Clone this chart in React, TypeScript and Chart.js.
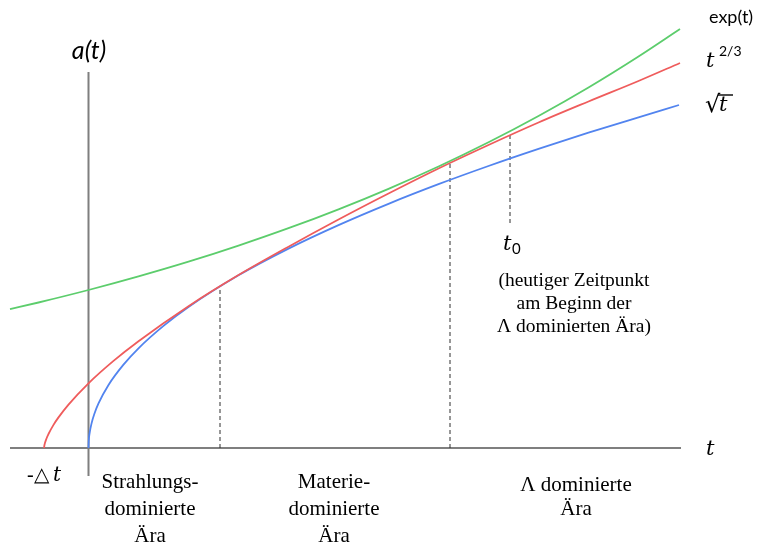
import React, { useEffect, useRef } from "react";
import { Chart, registerables } from "chart.js";

Chart.register(...registerables);

// Scale factor a(t) for the three cosmological eras (schematic)
// Matter-like growth, starting at -Δt: a ~ t^(2/3)
const tRed = [-0.445, -0.44, -0.42, -0.4, -0.35, -0.3, -0.2, 0, 0.25, 0.5, 1, 1.5, 2, 2.5, 3, 3.5, 4, 4.5, 5, 5.5, 5.915];
const aRed = [0, 0.032, 0.095, 0.14, 0.231, 0.306, 0.434, 0.647, 0.871, 1.068, 1.418, 1.729, 2.013, 2.285, 2.545, 2.795, 3.03, 3.255, 3.465, 3.67, 3.85];

// a ~ sqrt(t)
const tBlue = [0, 0.002, 0.01, 0.03, 0.06, 0.1, 0.2, 0.35, 0.5, 0.75, 1, 1.5, 2, 2.5, 3, 3.5, 4, 4.5, 5, 5.5, 5.905];
const aBlue = [0, 0.063, 0.141, 0.244, 0.345, 0.446, 0.631, 0.834, 0.997, 1.221, 1.41, 1.727, 1.994, 2.229, 2.442, 2.638, 2.82, 2.991, 3.153, 3.307, 3.43];

// a ~ exp(t)
const tGreen = [-0.785, -0.5, 0, 0.5, 1, 1.5, 2, 2.5, 3, 3.5, 4, 4.5, 5, 5.5, 5.915];
const aGreen = [1.388, 1.455, 1.58, 1.716, 1.863, 2.024, 2.198, 2.387, 2.592, 2.815, 3.057, 3.32, 3.605, 3.915, 4.19];

// Era boundaries (dashed drop lines) and their heights
const eraBoundaryT = [1.315, 3.615];
const eraBoundaryA = [1.62, 2.86];

// Present time t0 marker
const t0T = 4.215;
const t0Range = [2.25, 3.14];

// Axis extents
const tAxisRange = [-0.785, 5.925];
const aAxisRange = [-0.28, 3.76];

const GREEN = "#5ccd6c";
const RED = "#ef5c5c";
const BLUE = "#5284ef";
const AXIS = "#7f7f7f";
const DASH = "#2e2e2e";

const pts = (xs: number[], ys: number[]) => xs.map((x, i) => ({ x, y: ys[i] }));

const labelsPlugin = {
  id: "eraLabels",
  afterDraw(chart: any) {
    const { ctx } = chart;
    const serif = '"Liberation Serif", "Times New Roman", serif';
    const sans = 'Lato, "Open Sans", sans-serif';
    const math = '"DejaVu Serif", serif';
    ctx.save();
    ctx.fillStyle = "#000";
    ctx.textBaseline = "alphabetic";

    // axis labels
    ctx.textAlign = "center";
    ctx.font = `italic 25px ${sans}`;
    ctx.fillText("a(t)", 89, 59);
    ctx.font = `italic 21px ${math}`;
    ctx.textAlign = "left";
    ctx.fillText("t", 706, 455);

    // curve labels
    ctx.font = `18px ${sans}`;
    ctx.fillText("exp(t)", 709, 23);
    ctx.font = `italic 21px ${math}`;
    ctx.fillText("t", 706, 67);
    ctx.font = `14px ${sans}`;
    ctx.fillText("2/3", 719, 56);
    ctx.font = `24px "DejaVu Sans", sans-serif`;
    ctx.fillText("\u221A", 705, 112);
    ctx.font = `italic 21px ${math}`;
    ctx.fillText("t", 719, 111);
    ctx.strokeStyle = "#000";
    ctx.lineWidth = 1.4;
    ctx.beginPath();
    ctx.moveTo(718, 95);
    ctx.lineTo(733, 95);
    ctx.stroke();

    // -Δt
    ctx.font = `20px ${serif}`;
    ctx.fillText("-\u25B3", 27, 481);
    ctx.font = `italic 20px ${math}`;
    ctx.fillText("t", 53, 481);

    // t0
    ctx.font = `italic 21px ${math}`;
    ctx.fillText("t", 503, 250);
    ctx.font = `15px ${sans}`;
    ctx.fillText("0", 512, 254);

    ctx.textAlign = "center";
    ctx.font = `19.5px ${serif}`;
    ctx.fillText("(heutiger Zeitpunkt", 574, 286);
    ctx.fillText("am Beginn der", 574, 309);
    ctx.fillText("\u039B dominierten \u00C4ra)", 574, 332);

    // era names
    ctx.font = `21px ${serif}`;
    const eras = [
      { x: 150, lines: ["Strahlungs-", "dominierte", "\u00C4ra"], y0: 488, dy: 27 },
      { x: 334, lines: ["Materie-", "dominierte", "\u00C4ra"], y0: 488, dy: 27 },
      { x: 576, lines: ["\u039B dominierte", "\u00C4ra"], y0: 491, dy: 24 },
    ];
    for (const e of eras) {
      e.lines.forEach((l, i) => ctx.fillText(l, e.x, e.y0 + i * e.dy));
    }
    ctx.restore();
  },
};

export default function App() {
  const ref = useRef<HTMLCanvasElement | null>(null);

  useEffect(() => {
    if (!ref.current) return;
    const curve = (data: any, color: string, order: number) => ({
      data,
      borderColor: color,
      borderWidth: 1.8,
      pointRadius: 0,
      fill: false,
      cubicInterpolationMode: "monotone",
      order,
      clip: false,
    });
    const straight = (data: any, color: string, width: number, dash: number[], order: number) => ({
      data,
      borderColor: color,
      borderWidth: width,
      borderDash: dash,
      pointRadius: 0,
      fill: false,
      tension: 0,
      order,
      clip: false,
    });

    const datasets: any[] = [
      curve(pts(tGreen, aGreen), GREEN, 1),
      curve(pts(tRed, aRed), RED, 2),
      curve(pts(tBlue, aBlue), BLUE, 3),
      ...eraBoundaryT.map((t, i) => straight(pts([t, t], [0, eraBoundaryA[i]]), DASH, 1, [4, 3], 4)),
      straight(pts([t0T, t0T], t0Range), DASH, 1, [4, 3], 4),
      straight(pts(tAxisRange, [0, 0]), AXIS, 2, [], 5),
      straight(pts([0, 0], aAxisRange), AXIS, 2, [], 5),
    ];

    const chart = new Chart(ref.current, {
      type: "line",
      data: { datasets },
      options: {
        animation: false,
        responsive: false,
        devicePixelRatio: 1,
        layout: { padding: 0 },
        plugins: { legend: { display: false }, tooltip: { enabled: false }, title: { display: false } },
        events: [],
        scales: {
          x: { type: "linear", min: -0.885, max: 6.695, display: false },
          y: { type: "linear", min: -0.96, max: 4.48, display: false },
        },
      },
      plugins: [labelsPlugin],
    });
    return () => chart.destroy();
  }, []);

  return (
    <div style={{ position: "absolute", left: 0, top: 0, width: 758, height: 544, background: "#fff" }}>
      <canvas ref={ref} width={758} height={544} />
    </div>
  );
}
